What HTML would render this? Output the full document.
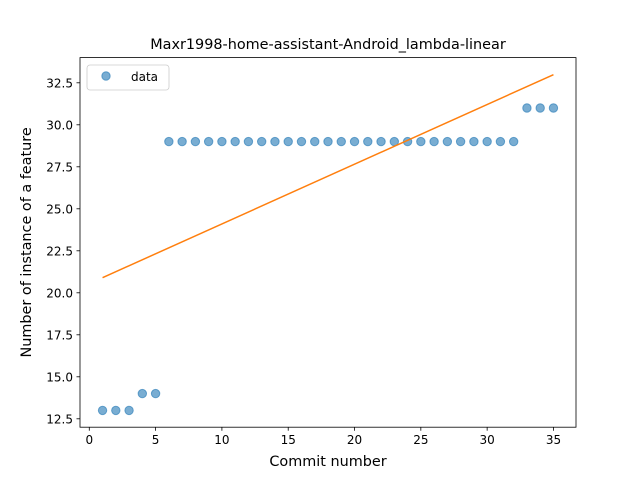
<!DOCTYPE html>
<html><head><meta charset="utf-8"><style>
body{margin:0;background:#fff}
svg{font-family:"DejaVu Sans","Liberation Sans",sans-serif}
</style></head><body>
<svg id="chart" width="640" height="480" xmlns="http://www.w3.org/2000/svg">
<rect width="640" height="480" fill="#fff"/>
<text x="328" y="49" text-anchor="middle" font-size="14.4">Maxr1998-home-assistant-Android_lambda-linear</text>
<g id="plot"></g>
<rect x="80" y="57.6" width="496" height="369.6" fill="none" stroke="#000" stroke-width="0.8"/>
<text x="328" y="466" text-anchor="middle" font-size="14.4">Commit number</text>
<text transform="translate(31,242.4) rotate(-90)" text-anchor="middle" font-size="14.4">Number of instance of a feature</text>
<g>
<rect x="87" y="65" width="82" height="25" rx="3" fill="#fff" stroke="#ccc" stroke-width="0.8"/>
<circle cx="106" cy="76" r="4.2" fill="#1f77b4" fill-opacity="0.6" stroke="#1f77b4" stroke-opacity="0.6"/>
<text x="131" y="81" font-size="12">data</text>
</g>
</svg>
<script>
const commits = [1,2,3,4,5,6,7,8,9,10,11,12,13,14,15,16,17,18,19,20,21,22,23,24,25,26,27,28,29,30,31,32,33,34,35];
const counts = [13,13,13,14,14,29,29,29,29,29,29,29,29,29,29,29,29,29,29,29,29,29,29,29,29,29,29,29,29,29,29,29,31,31,31];
const xTicks = [0,5,10,15,20,25,30,35];
const yTicks = [12.5,15.0,17.5,20.0,22.5,25.0,27.5,30.0,32.5];
const NS = "http://www.w3.org/2000/svg";
const L=80,R=576,T=57.6,B=427.2;
const xMin=-0.7,xMax=36.7,yMin=12,yMax=34;
const sx=v=>L+(v-xMin)/(xMax-xMin)*(R-L);
const sy=v=>B-(v-yMin)/(yMax-yMin)*(B-T);
const g=document.getElementById('plot');
function mk(t,a){const e=document.createElementNS(NS,t);for(const k in a)e.setAttribute(k,a[k]);g.appendChild(e);return e;}
xTicks.forEach(v=>{
  const l=mk('line',{x1:sx(v),x2:sx(v),y1:B,y2:B+3.5,stroke:'#000','stroke-width':0.8});
  
  
  const t=mk('text',{x:sx(v),y:B+17,'text-anchor':'middle','font-size':12});
  t.textContent=v;
  
  
});
yTicks.forEach(v=>{
  const l=mk('line',{x1:L-3.5,x2:L,y1:sy(v),y2:sy(v),stroke:'#000','stroke-width':0.8});
  
  
  const t=mk('text',{x:L-7,y:sy(v)+4.5,'text-anchor':'end','font-size':12});
  t.textContent=v.toFixed(1);
  
  
});
commits.forEach((c,i)=>{
  const p=mk('circle',{cx:sx(c),cy:sy(counts[i]),r:4.2,fill:'#1f77b4','fill-opacity':0.6,stroke:'#1f77b4','stroke-opacity':0.6});
  
  
});
const n=commits.length;
const mx=commits.reduce((a,b)=>a+b,0)/n, my=counts.reduce((a,b)=>a+b,0)/n;
let sxy=0,sxx=0;commits.forEach((c,i)=>{sxy+=(c-mx)*(counts[i]-my);sxx+=(c-mx)*(c-mx);});
const slope=sxy/sxx, icpt=my-slope*mx;
const x0=commits[0],x1=commits[n-1];
const fl=mk('line',{x1:sx(x0),y1:sy(icpt+slope*x0),x2:sx(x1),y2:sy(icpt+slope*x1),stroke:'#ff7f0e','stroke-width':1.5});


</script>
</body></html>
